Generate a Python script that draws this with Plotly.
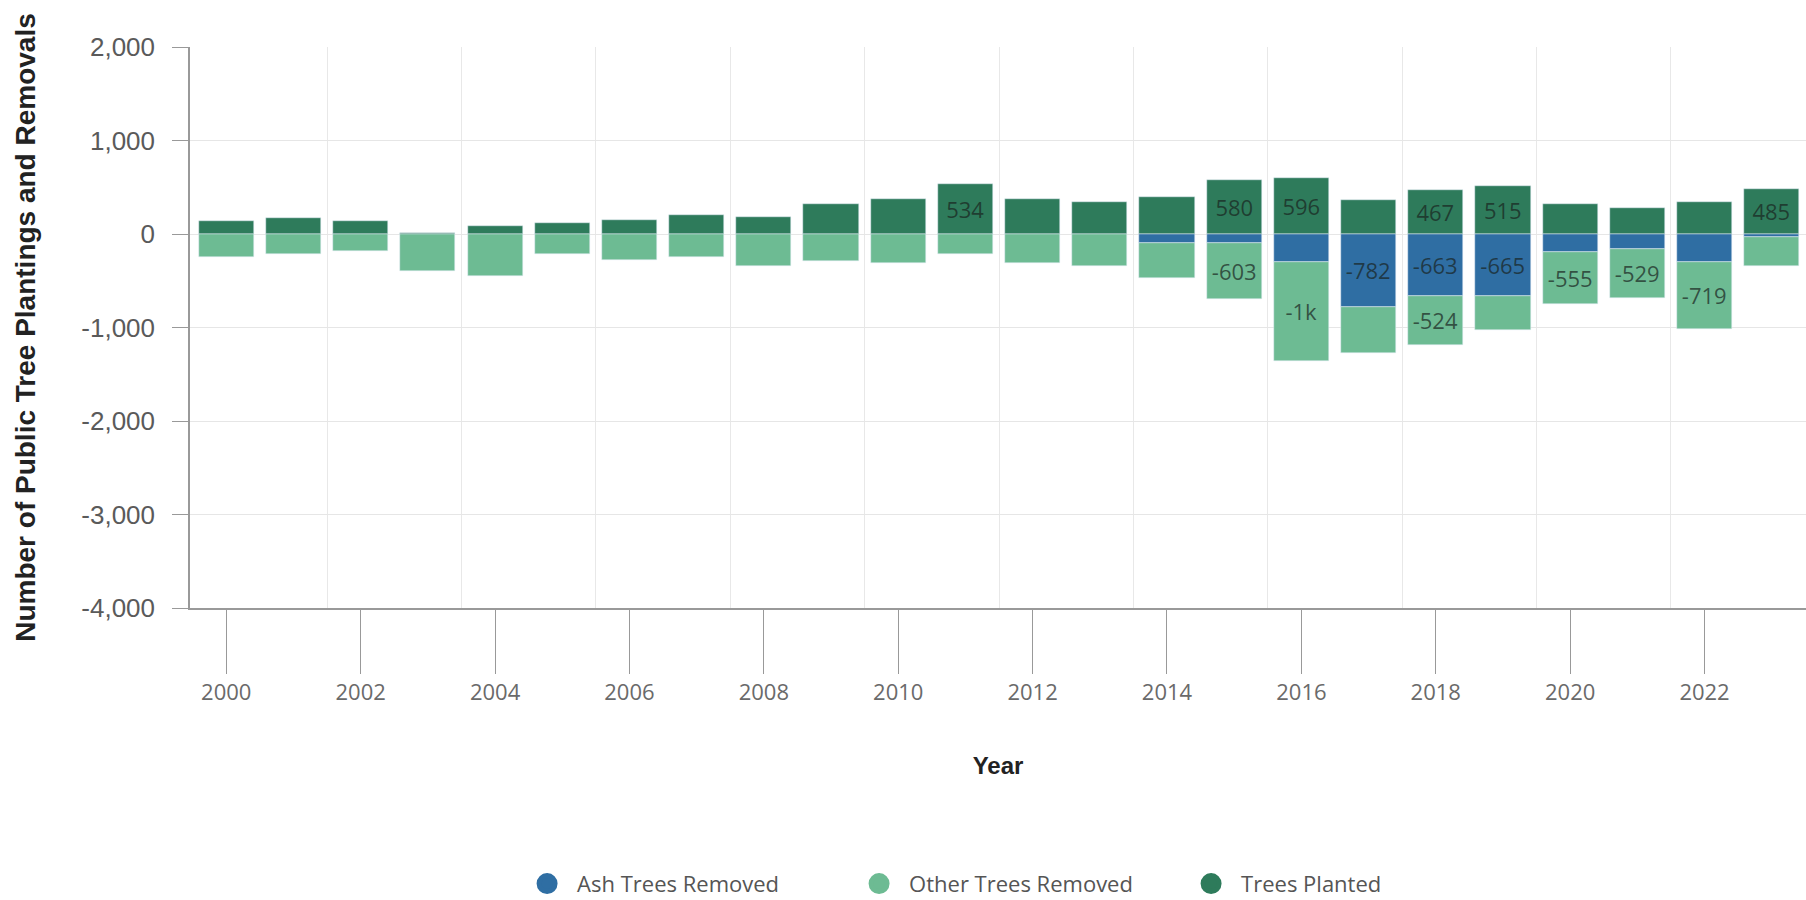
import plotly.graph_objects as go

# ---- data ----
years = list(range(2000, 2024))
trees_planted = [142, 171, 142, 10, 90, 114, 150, 205, 177, 317, 370, 534,
                 370, 345, 394, 580, 596, 365, 467, 515, 317, 282, 341, 485]
ash_removed = [0, 0, 0, 0, 0, 0, 0, 0, 0, 0, 0, 0,
               0, 0, -98, -95, -300, -782, -663, -665, -195, -160, -295, -30]
other_removed = [-241, -219, -184, -391, -448, -219, -276, -248, -341, -284, -313, -219,
                 -305, -341, -376, -603, -1062, -490, -524, -361, -555, -529, -719, -316]

# years whose segments carry a visible value label in the reference
planted_label_years = [2011, 2015, 2016, 2018, 2019, 2023]
ash_label_years = [2017, 2018, 2019]
other_label_years = [2015, 2016, 2018, 2020, 2021, 2022]

y_tick_vals = [2000, 1000, 0, -1000, -2000, -3000, -4000]
y_tick_text = ["2,000", "1,000", "0", "-1,000", "-2,000", "-3,000", "-4,000"]
x_tick_vals = list(range(2000, 2023, 2))
x_tick_text = [str(y) for y in x_tick_vals]
grid_x_vals = [y + 0.5 for y in range(2001, 2024, 2)]

C_ASH = "#2f6ea3"
C_OTHER = "#6dbb93"
C_PLANTED = "#2e7b5b"


def fmt(v):
    return "-1k" if v <= -1000 else ("1k" if v >= 1000 else str(v))


def labels(values, label_years):
    return [fmt(v) if yr in label_years else "" for yr, v in zip(years, values)]


text_font = dict(family="Open Sans", size=22, color="rgba(25,35,30,0.7)")

fig = go.Figure()
common = dict(x=years, width=0.82, textposition="inside", insidetextanchor="middle",
              textfont=text_font, showlegend=False, hoverinfo="x+y",
              textangle=0, constraintext="none")
fig.add_trace(go.Bar(y=ash_removed, name="Ash Trees Removed", marker_color=C_ASH,
                     text=labels(ash_removed, ash_label_years), **common))
fig.add_trace(go.Bar(y=other_removed, name="Other Trees Removed", marker_color=C_OTHER,
                     text=labels(other_removed, other_label_years), **common))
fig.add_trace(go.Bar(y=trees_planted, name="Trees Planted", marker_color=C_PLANTED,
                     text=labels(trees_planted, planted_label_years), **common))

# legend entries with round symbols
for name, col in [("Ash Trees Removed", C_ASH), ("Other Trees Removed", C_OTHER),
                  ("Trees Planted", C_PLANTED)]:
    fig.add_trace(go.Scatter(x=[None], y=[None], mode="markers", name=name,
                             marker=dict(symbol="circle", size=16, color=col,
                                         line=dict(color=col, width=5)),
                             showlegend=True, hoverinfo="skip"))

fig.update_layout(
    width=1806, height=900,
    barmode="relative",
    bargap=0,
    plot_bgcolor="white",
    paper_bgcolor="white",
    margin=dict(l=190, r=0, t=47, b=292),
    font=dict(family="Arial", color="#555"),
    legend=dict(orientation="h", xref="paper", x=0.2024, xanchor="left",
                yref="container", y=0.018, yanchor="middle",
                font=dict(family="Open Sans", size=22, color="#555"),
                itemwidth=50, entrywidth=267, entrywidthmode="pixels",
                traceorder="normal"),
    xaxis=dict(
        range=[1999.46, 2023.51],
        tickmode="array", tickvals=x_tick_vals, ticktext=x_tick_text,
        ticks="outside", ticklen=64, tickcolor="#999", tickwidth=1.2,
        tickfont=dict(family="Open Sans", size=22, color="#6a6a6a"),
        ticklabelstandoff=0,
        showgrid=False,
        minor=dict(tickmode="array", tickvals=grid_x_vals, showgrid=True,
                   gridcolor="#e8e8e8", gridwidth=1, ticks=""),
        showline=True, linecolor="#999", linewidth=1.5,
        zeroline=False,
        title=dict(text="<b>Year</b>", font=dict(family="Arial", size=24, color="#222"),
                   standoff=52),
    ),
    yaxis=dict(
        range=[-4000, 2000],
        tickmode="array", tickvals=y_tick_vals, ticktext=y_tick_text,
        ticks="outside", ticklen=16, tickcolor="#999", tickwidth=1.2,
        tickfont=dict(family="Arial", size=26, color="#5a5a5a"),
        ticklabelstandoff=12,
        showgrid=True, gridcolor="#e6e6e6", gridwidth=1,
        showline=True, linecolor="#999", linewidth=1.5,
        zeroline=False,
        title=dict(text="<b>Number of Public Tree Plantings and Removals</b>",
                   font=dict(family="Arial", size=28, color="#222"), standoff=38),
    ),
)

fig.write_html("out.html")
